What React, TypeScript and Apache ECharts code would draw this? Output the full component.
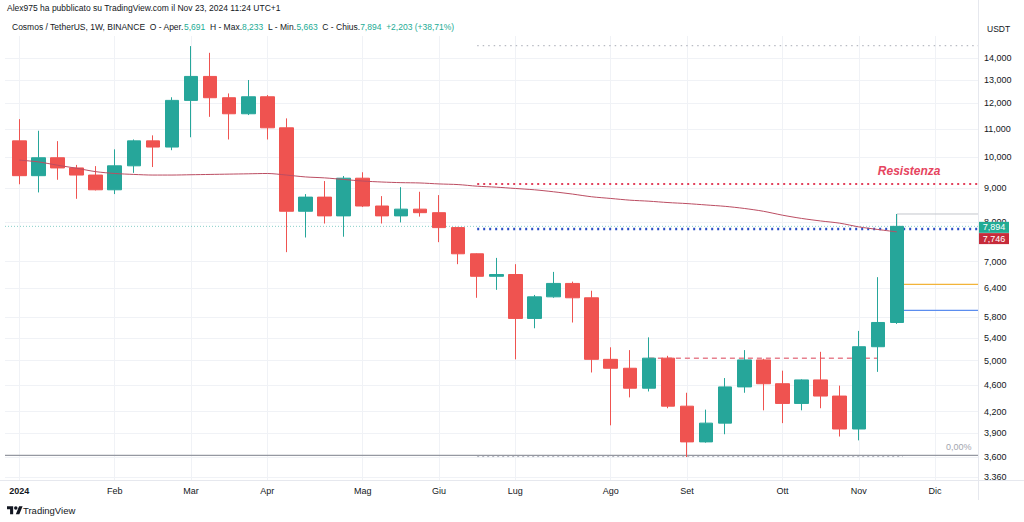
import React, { useEffect, useRef } from 'react';
import * as echarts from 'echarts';

// Weekly candles, Cosmos / TetherUS 2024 (index 0 = week of Jan 1)
const opens = [10.56, 9.38, 9.97, 9.63, 9.40, 8.94, 9.70, 10.56, 10.34, 12.12, 13.15, 12.23, 11.58, 12.27, 11.04, 8.31, 8.72, 8.18, 9.30, 8.46, 8.18, 8.37, 8.27, 7.86, 7.19, 6.66, 6.70, 5.77, 6.21, 6.50, 6.19, 5.02, 4.87, 4.55, 5.04, 4.28, 3.79, 4.04, 4.57, 5.01, 4.62, 4.32, 4.68, 4.43, 3.96, 5.24, 5.691];
const highs = [11.37, 10.93, 10.55, 9.73, 9.69, 10.26, 10.61, 10.76, 12.25, 14.58, 14.25, 12.41, 12.99, 12.34, 11.40, 8.81, 9.21, 9.37, 9.49, 8.75, 9.02, 8.88, 8.78, 7.88, 7.20, 7.09, 6.94, 6.25, 6.76, 6.54, 6.34, 5.23, 5.18, 5.41, 5.08, 4.48, 4.23, 4.71, 5.18, 5.03, 4.83, 4.69, 5.15, 4.59, 5.53, 6.64, 8.233];
const lows = [9.11, 8.86, 9.25, 8.67, 8.92, 8.81, 9.47, 9.66, 10.23, 10.69, 11.46, 10.61, 11.53, 10.61, 7.23, 7.60, 7.97, 7.62, 8.43, 7.97, 8.00, 8.16, 7.48, 6.94, 6.19, 6.36, 5.02, 5.58, 6.19, 5.69, 4.80, 4.01, 4.41, 4.50, 4.25, 3.60, 3.78, 3.89, 4.48, 4.22, 4.04, 4.22, 4.25, 3.86, 3.81, 4.81, 5.663];
const closes = [9.38, 9.97, 9.63, 9.40, 8.94, 9.70, 10.56, 10.34, 12.12, 13.15, 12.23, 11.58, 12.27, 11.04, 8.31, 8.72, 8.18, 9.30, 8.46, 8.18, 8.37, 8.27, 7.86, 7.19, 6.66, 6.70, 5.77, 6.21, 6.50, 6.19, 5.02, 4.87, 4.55, 5.04, 4.28, 3.79, 4.04, 4.57, 5.01, 4.62, 4.32, 4.68, 4.43, 3.96, 5.24, 5.691, 7.894];
const movingAvg = [9.89, 9.83, 9.72, 9.62, 9.51, 9.45, 9.42, 9.40, 9.40, 9.41, 9.42, 9.43, 9.44, 9.45, 9.40, 9.34, 9.31, 9.26, 9.21, 9.18, 9.16, 9.15, 9.12, 9.10, 9.05, 9.02, 8.98, 8.94, 8.88, 8.81, 8.73, 8.68, 8.63, 8.60, 8.56, 8.53, 8.49, 8.45, 8.39, 8.31, 8.20, 8.11, 8.04, 7.98, 7.88, 7.81, 7.746];

const monthTickIndex = [0, 5, 9, 13, 18, 22, 26, 31, 35, 40, 44, 48];
const monthLabels = ['2024', 'Feb', 'Mar', 'Apr', 'Mag', 'Giu', 'Lug', 'Ago', 'Set', 'Ott', 'Nov', 'Dic'];
const priceTicks = [14, 13, 12, 11, 10, 9, 8, 7, 6.4, 5.8, 5.4, 5.0, 4.6, 4.2, 3.9, 3.6, 3.36];

// drawn levels
const resistanceLevel = 9.12;
const supportLevel = 7.82;
const dashedLevel = 5.04;
const fibTopLevel = 14.6;
const fibBottomLevel = 3.62;
const yellowLevel = 6.48;
const blueLevel = 5.93;
const levelStartIndex = 24;
const dashedStart = 33;
const dashedEnd = 45;
const targetStart = 46.31;

const X_MIN = -0.75;
const X_MAX = 50.25;
const Y_MIN = 3.329;
const Y_MAX = 15.09;

const FONT = '"Liberation Sans", Arial, sans-serif';
const UP = '#26a69a';
const DOWN = '#ef5350';

const TV_PATH = 'M14 22H7V11H0V4h14v18zM28 22h-8l7.5-18h8L28 22zM24 8a4 4 0 1 1-8 0a4 4 0 1 1 8 0z';
let registered = false;
function registerLogo() {
  if (registered) return;
  registered = true;
  echarts.graphic.registerShape('tvlogo', echarts.graphic.extendPath(TV_PATH, {}) as any);
}

const fmt = (v: number, d = 3) => v.toFixed(d).replace('.', ',');
const ln = Math.log;

function seg(name: string, x0: number, x1: number, y: number, color: string, width: number, type: any, z = 2) {
  return {
    name,
    type: 'line',
    data: [[x0, ln(y)], [x1, ln(y)]],
    symbol: 'none',
    silent: true,
    z,
    lineStyle: { color, width, type },
  };
}

export default function App() {
  const ref = useRef<HTMLDivElement>(null);

  useEffect(() => {
    document.body.style.margin = '0';
    document.body.style.overflow = 'hidden';
    registerLogo();
    const chart = echarts.init(ref.current!, undefined, { renderer: 'svg' });
    const last = opens.length - 1;
    const chg = closes[last] - closes[last - 1];
    const pct = (chg / closes[last - 1]) * 100;

    const candleData = opens.map((o, i) => [i, ln(o), ln(closes[i]), ln(lows[i]), ln(highs[i])]);

    const option: any = {
      animation: false,
      textStyle: { fontFamily: FONT },
      grid: { left: 5, right: 46, top: 36, bottom: 42, containLabel: false },
      xAxis: {
        type: 'value',
        min: X_MIN,
        max: X_MAX,
        axisLine: { show: false },
        axisTick: { show: false, customValues: monthTickIndex },
        splitLine: { show: true, lineStyle: { color: '#f0f2f6', width: 1 } },
        axisLabel: {
          customValues: monthTickIndex,
          margin: 6,
          fontSize: 9,
          color: '#131722',
          fontFamily: FONT,
          formatter: (v: number) => {
            const k = monthTickIndex.indexOf(Math.round(v));
            if (k < 0) return '';
            return k === 0 ? '{b|' + monthLabels[k] + '}' : monthLabels[k];
          },
          rich: { b: { fontWeight: 'bold', fontSize: 9, color: '#131722', fontFamily: FONT } },
        },
      },
      yAxis: {
        type: 'value',
        position: 'right',
        min: ln(Y_MIN),
        max: ln(Y_MAX),
        scale: true,
        axisLine: { show: false },
        axisTick: { show: false, customValues: priceTicks.map(ln) },
        splitLine: { show: true, lineStyle: { color: '#f0f2f6', width: 1 } },
        axisLabel: {
          customValues: priceTicks.map(ln),
          margin: 6,
          fontSize: 9,
          color: '#131722',
          fontFamily: FONT,
          formatter: (v: number) => fmt(Math.exp(v)),
        },
      },
      series: [
        seg('fibBottomSolid', X_MIN, X_MAX, fibBottomLevel, '#9598a1', 1.3, 'solid', 1),
        seg('fibBottomDots', levelStartIndex, targetStart, fibBottomLevel * 0.996, '#b2b5be', 1, [2, 3], 1),
        seg('fibTop', levelStartIndex, X_MAX, fibTopLevel, '#b8bbc3', 1.3, [1.5, 4], 1),
        seg('lastPrice', X_MIN, X_MAX, closes[last], 'rgba(38,166,154,0.55)', 1, [1, 2], 1),
        seg('resistance', levelStartIndex, X_MAX, resistanceLevel, '#e2405b', 2, [2, 4], 2),
        seg('support', levelStartIndex, X_MAX, supportLevel, '#2c4fc4', 2.5, [2, 4], 2),
        seg('dashed', dashedStart, dashedEnd, dashedLevel, '#e7808e', 1.5, [5, 4], 2),
        seg('yellow', targetStart, X_MAX, yellowLevel, '#f2b43a', 1.3, 'solid', 2),
        seg('blue', targetStart, X_MAX, blueLevel, '#5b8def', 1.3, 'solid', 2),
        {
          name: 'highBracket',
          type: 'line',
          data: [[last, ln(closes[last])], [last, ln(highs[last])], [X_MAX, ln(highs[last])]],
          symbol: 'none',
          silent: true,
          z: 2,
          lineStyle: { color: '#c3c6cc', width: 1 },
        },
        {
          name: 'ATOM',
          type: 'candlestick',
          data: candleData,
          barWidth: 14,
          z: 3,
          itemStyle: {
            color: UP,
            color0: DOWN,
            borderColor: UP,
            borderColor0: DOWN,
            borderWidth: 1,
          },
        },
        {
          name: 'MA',
          type: 'line',
          data: movingAvg.map((v, i) => [i, ln(v)]),
          symbol: 'none',
          smooth: 0.3,
          silent: true,
          z: 4,
          lineStyle: { color: '#bb4d62', width: 1 },
          markPoint: {
            silent: true,
            animation: false,
            data: [
              {
                name: 'last',
                coord: [X_MAX, ln(closes[last])],
                symbol: 'rect',
                symbolSize: [30, 11],
                symbolOffset: [16, 1],
                itemStyle: { color: '#22ab94' },
                label: { show: true, position: 'inside', formatter: fmt(closes[last]), color: '#ffffff', fontSize: 9, fontFamily: FONT },
              },
              {
                name: 'ma',
                coord: [X_MAX, ln(movingAvg[last])],
                symbol: 'rect',
                symbolSize: [30, 11],
                symbolOffset: [16, 6.7],
                itemStyle: { color: '#c62b3a' },
                label: { show: true, position: 'inside', formatter: fmt(movingAvg[last]), color: '#ffffff', fontSize: 9, fontFamily: FONT },
              },
              {
                name: 'res',
                coord: [X_MAX, ln(resistanceLevel)],
                symbol: 'circle',
                symbolSize: 1,
                itemStyle: { color: 'rgba(0,0,0,0)' },
                label: {
                  show: true,
                  position: 'left',
                  distance: 37,
                  offset: [0, -13],
                  formatter: 'Resistenza',
                  fontStyle: 'italic',
                  fontWeight: 'bold',
                  fontSize: 12,
                  color: '#e6455f',
                  fontFamily: FONT,
                },
              },
              {
                name: 'fib0',
                coord: [X_MAX, ln(fibBottomLevel)],
                symbol: 'circle',
                symbolSize: 1,
                itemStyle: { color: 'rgba(0,0,0,0)' },
                label: {
                  show: true,
                  position: 'left',
                  distance: 6,
                  offset: [0, -8.5],
                  formatter: '0,00%',
                  fontSize: 9,
                  color: '#a3a6af',
                  fontFamily: FONT,
                },
              },
            ],
          },
        },
      ],
      graphic: [
        { type: 'line', silent: true, z: 50, shape: { x1: 978.5, y1: 0, x2: 978.5, y2: 500 }, style: { stroke: '#e6e8ee', lineWidth: 1 } },
        { type: 'rect', silent: true, z: 60, shape: { x: 979, y: 480, width: 45, height: 42 }, style: { fill: '#ffffff' } },
        { type: 'line', silent: true, z: 61, shape: { x1: 0, y1: 480.5, x2: 1024, y2: 480.5 }, style: { stroke: '#e6e8ee', lineWidth: 1 } },
        {
          type: 'text',
          left: 7,
          top: 3,
          z: 70,
          style: {
            text: 'Alex975 ha pubblicato su TradingView.com il Nov 23, 2024 11:24 UTC+1',
            font: '8.5px ' + FONT,
            fill: '#131722',
          },
        },
        {
          type: 'text',
          left: 12,
          top: 22,
          z: 70,
          style: {
            text:
              '{d|Cosmos / TetherUS, 1W, BINANCE  O - Aper.}{g|' + fmt(opens[last]) +
              '}{d|  H - Max.}{g|' + fmt(highs[last]) +
              '}{d|  L - Min.}{g|' + fmt(lows[last]) +
              '}{d|  C - Chius.}{g|' + fmt(closes[last]) +
              '  +' + fmt(chg) + ' (+' + fmt(pct, 2) + '%)}',
            rich: {
              d: { fill: '#131722', fontSize: 8.5, fontFamily: FONT },
              g: { fill: '#22ab94', fontSize: 8.5, fontFamily: FONT },
            },
          },
        },
        {
          type: 'text',
          left: 987,
          top: 24,
          z: 70,
          style: { text: 'USDT', font: '8.5px ' + FONT, fill: '#131722' },
        },
        {
          type: 'tvlogo',
          x: 7,
          y: 504.5,
          scaleX: 0.44,
          scaleY: 0.44,
          z: 70,
          style: { fill: '#131722' },
        },
        {
          type: 'text',
          left: 23,
          top: 505,
          z: 70,
          style: { text: 'TradingView', font: '9.5px ' + FONT, fill: '#131722' },
        },
      ],
    };

    chart.setOption(option);
    return () => chart.dispose();
  }, []);

  return <div ref={ref} style={{ width: 1024, height: 522 }} />;
}
